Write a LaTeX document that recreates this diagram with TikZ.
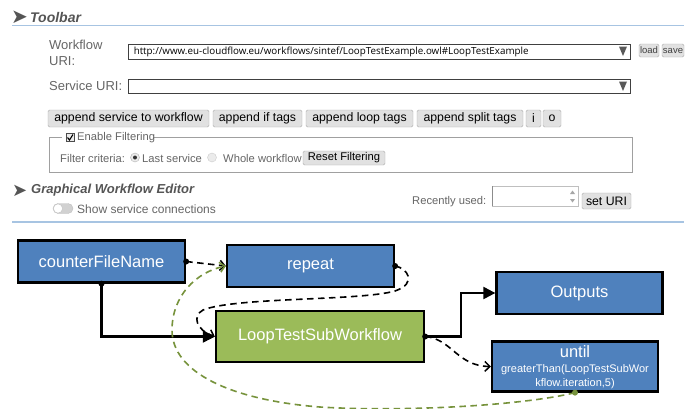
\documentclass[tikz,border=0pt]{standalone}
\usepackage{fontspec}
\setmainfont{Liberation Sans}
\newfontfamily\symfont{DejaVu Sans}
\newfontfamily\urlfont{Open Sans}
\usetikzlibrary{arrows.meta}

\definecolor{rulebl}{HTML}{A7C4E2}
\definecolor{titlegray}{HTML}{555555}
\definecolor{labelgray}{HTML}{666666}
\definecolor{btnfill}{HTML}{E1E1E1}
\definecolor{btnline}{HTML}{ADADAD}
\definecolor{fieldline}{HTML}{A0A0A0}
\definecolor{nodeblue}{HTML}{4F81BD}
\definecolor{nodegreen}{HTML}{9BBB59}
\definecolor{loopgreen}{HTML}{77933C}

\tikzset{
  title/.style={anchor=west, inner sep=0, text=titlegray},
  lbl/.style={anchor=west, inner sep=0, text=labelgray, font=\fontsize{13}{15}\selectfont},
  smalllbl/.style={anchor=west, inner sep=0, text=labelgray, font=\fontsize{11.2}{13}\selectfont},
  btn/.style={draw=btnline, fill=btnfill, rounded corners=1.5pt, inner sep=0, text=black,
    font=\fontsize{12.3}{14}\selectfont},
  smallbtn/.style={btn, font=\fontsize{11.2}{13}\selectfont},
  tinybtn/.style={btn, text=black!75, font=\fontsize{9.5}{11}\selectfont},
  selbox/.style={draw=black!75, line width=0.9pt, fill=white, inner sep=0},
  wfnode/.style={draw=black, line width=2.3pt, text=white, inner sep=0,
    font=\fontsize{16.5}{19}\selectfont},
  wftext/.style={inner sep=0, text=white},
  flow/.style={line width=2.2pt, -{Triangle[length=12pt,width=12pt]}},
  dep/.style={line width=1.6pt, dash pattern=on 6.5pt off 4.5pt,
    -{Straight Barb[length=5pt,width=10pt,line width=1.5pt]}},
  srcdot/.style={fill=black},
}

\begin{document}
\begin{tikzpicture}[x=1pt,y=-1pt]
\useasboundingbox (0,0) rectangle (690,408);
\fill[white] (0,0) rectangle (690,408);

% ---------- Toolbar section ----------
\node[title, font=\symfont\fontsize{20}{22}\selectfont] (tbarrow) at (11,17) {➤};
\node[title, font=\fontsize{14}{16}\selectfont\bfseries\itshape] (tbtitle) at (30,17) {Toolbar};
\draw[rulebl, line width=1.4pt] (12,25.5) -- (684,25.5);

\node[lbl] (wflbl1) at (49,45) {Workflow};
\node[lbl] (wflbl2) at (49,61) {URI:};
\node[selbox, minimum width=502, minimum height=15] (wfsel) at (379,51.5) {};
\node[anchor=west, inner sep=0, font=\urlfont\fontsize{9.8}{11}\selectfont] (wfurl)
  at ([xshift=6pt]wfsel.west) {http://www.eu-cloudflow.eu/workflows/sintef/LoopTestExample.owl\#LoopTestExample};
\fill[black!65] (619,46.5) -- (627,46.5) -- (623,56) -- cycle;
\node[tinybtn, minimum width=20, minimum height=13] (bload) at (649,50.5) {load};
\node[tinybtn, minimum width=22, minimum height=13] (bsave) at (673,50.5) {save};

\node[lbl] (svclbl) at (49,86) {Service URI:};
\node[selbox, minimum width=502, minimum height=14] (svcsel) at (379,86) {};
\fill[black!65] (619,81.5) -- (627,81.5) -- (623,91) -- cycle;

% button row
\node[btn, minimum width=161, minimum height=17] (bsvc) at (128.5,118.5) {append service to workflow};
\node[btn, minimum width=89, minimum height=17] (bif) at (257.5,118.5) {append if tags};
\node[btn, minimum width=107, minimum height=17] (bloop) at (359.5,118.5) {append loop tags};
\node[btn, minimum width=106, minimum height=17] (bsplit) at (470,118.5) {append split tags};
\node[btn, minimum width=15, minimum height=17] (bi) at (533.5,118.5) {i};
\node[btn, minimum width=18, minimum height=17] (bo) at (552,118.5) {o};

% filtering fieldset
\draw[fieldline, line width=0.9pt] (62,137.5) -| (49.5,172) -| (632,137.5) -- (153,137.5);
\draw[black!70, fill=black!8, line width=0.6pt] (66,133.5) rectangle (74,141.5);
\draw[black, line width=1.1pt] (67.5,137.5) -- (69.5,140) -- (73,134.5);
\node[smalllbl] (enflt) at (77,138) {Enable Filtering};
\node[smalllbl] (fltcrit) at (60,158) {Filter criteria:};
\draw[black!30, fill=black!8] (135,157.5) circle (4.5);
\fill[black!80] (135,157.5) circle (2);
\node[smalllbl] (lastsvc) at (142,158) {Last service};
\draw[black!20, fill=black!8] (212,157.5) circle (4.5);
\node[smalllbl] (wholewf) at (223,158) {Whole workflow};
\node[smallbtn, minimum width=82, minimum height=14] (breset) at (344,158) {Reset Filtering};

% ---------- Graphical editor section ----------
\node[title, font=\symfont\fontsize{18}{20}\selectfont] (gearrow) at (12,190.5) {➤};
\node[title, font=\fontsize{13}{15}\selectfont\bfseries\itshape] (getitle) at (31,190.5) {Graphical Workflow Editor};
\draw[black!25, fill=black!18, rounded corners=5pt] (53,203.5) rectangle (73,213.5);
\draw[black!25, fill=white] (58,208.5) circle (4.6);
\node[smalllbl, font=\fontsize{12}{14}\selectfont] (showsc) at (77,209) {Show service connections};

\node[smalllbl] (recent) at (412,202) {Recently used:};
\draw[black!25, line width=0.8pt] (492,186) -- (578,186) -- (578,206) -- (492,206);
\draw[black!45, line width=0.8pt] (492,186) -- (492,206);
\fill[black!35] (570,194) -- (575,194) -- (572.5,190.5) -- cycle;
\fill[black!35] (570,199) -- (575,199) -- (572.5,202.5) -- cycle;
\node[btn, font=\fontsize{12.3}{14}\selectfont, minimum width=49, minimum height=16] (bseturi) at (606.5,201) {set URI};
\draw[rulebl, line width=1.4pt] (12,222) -- (684,222);

% ---------- workflow graph ----------
\node[wfnode, fill=nodeblue, minimum width=167, minimum height=42] (cfn) at (101.5,261.5) {counterFileName};
\node[wfnode, fill=nodeblue, minimum width=167, minimum height=42] (rep) at (310.5,266) {repeat};
\node[wfnode, fill=nodegreen, minimum width=208, minimum height=51] (lts) at (320,336.5) {LoopTestSubWorkflow};
\node[wfnode, fill=nodeblue, minimum width=166, minimum height=42] (out) at (579.5,293) {Outputs};
\node[wfnode, fill=nodeblue, minimum width=166, minimum height=50] (until) at (575,366.5) {};
\node[wftext, font=\fontsize{16.5}{19}\selectfont] (untilkw) at (575,352) {until};
\node[wftext, font=\fontsize{11}{13}\selectfont] (untilc1) at (575,370) {greaterThan(LoopTestSubWor};
\node[wftext, font=\fontsize{11}{13}\selectfont] (untilc2) at (575,383.5) {kflow.iteration,5)};

% data flow
\draw[flow] (cfn.south) |- (lts.west);
\draw[flow] (lts.east) -- ++(36,0) |- (out.west);

% loop dependencies
\draw[dep] (cfn.east) -- (rep.west);
\draw[dep] (rep.east) .. controls (407,268) and (418,283) .. (395,291)
  .. controls (360,301) and (235,297) .. (203,310)
  .. controls (192,316) and (196,330) .. (lts.west);
\draw[dep] (lts.east) .. controls (452,339) and (457,366) .. (until.west);
\draw[dep, loopgreen] (until.south) .. controls (520,406) and (400,412) .. (320,407)
  .. controls (230,400) and (172,372) .. (172,330)
  .. controls (172,296) and (196,272) .. (rep.west);

% source dots
\fill[srcdot] (cfn.south) circle (3);
\fill[srcdot] (cfn.east) circle (3);
\fill[srcdot] (rep.east) circle (3);
\fill[srcdot] (lts.east) circle (3);
\fill[loopgreen] (until.south) circle (3);
\end{tikzpicture}
\end{document}
